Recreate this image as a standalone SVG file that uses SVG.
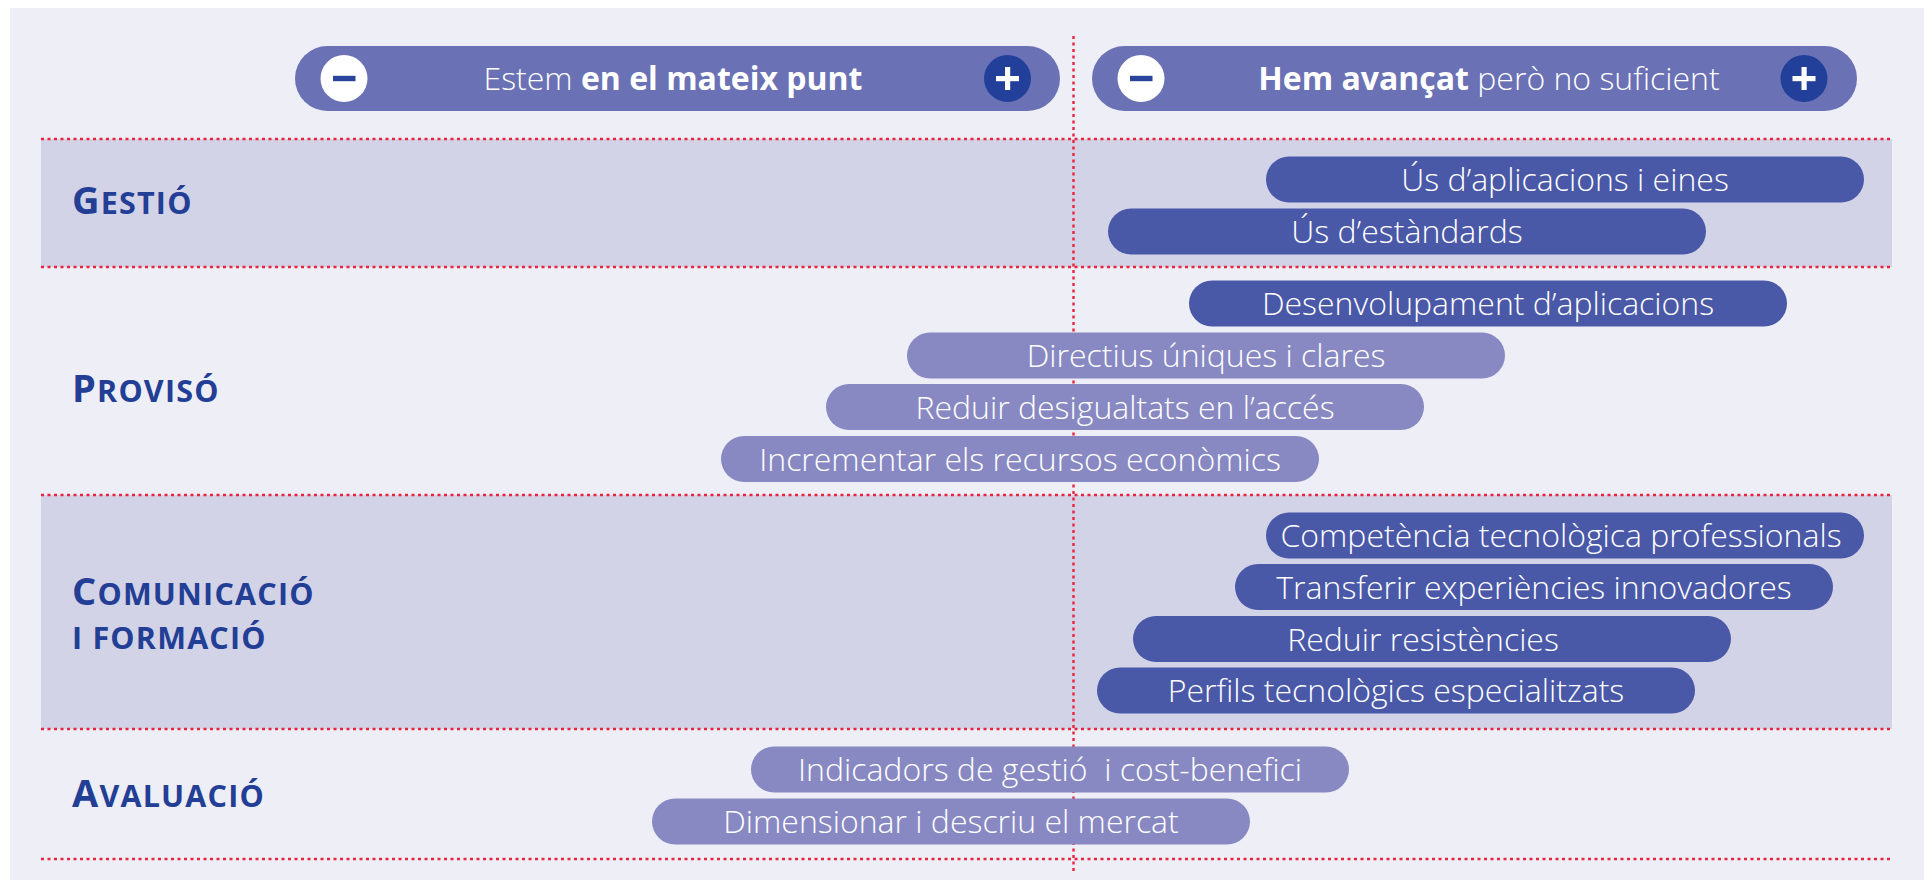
<svg xmlns="http://www.w3.org/2000/svg" width="1924" height="880" viewBox="0 0 1924 880">
<style>
.bg{fill:#EEEEF6}
.band{fill:#D3D3E8}
.hline{stroke:#E8253F;stroke-width:2.6;stroke-dasharray:3 3.5;fill:none}
.vline{stroke:#E8253F;stroke-width:2.4;stroke-dasharray:3 3.5;fill:none}
.head{fill:#6A71B5}
.dark{fill:#4A58A8}
.light{fill:#8889C2}
.bt{font-family:"Open Sans","Liberation Sans",sans-serif;font-weight:300;font-size:32px;fill:#FFFFFF;text-anchor:middle;white-space:pre}
.ht{font-family:"Open Sans","Liberation Sans",sans-serif;font-weight:300;font-size:32px;fill:#FFFFFF;text-anchor:middle}
.hb{font-weight:700}
.cat{font-family:"Open Sans","Liberation Sans",sans-serif;font-weight:700;font-size:38px;fill:#233E95;letter-spacing:1.2px}
.sc{font-size:30.5px}
.minus{fill:#FFFFFF}
.plus{fill:#22409A}
</style>
<rect class="bg" x="10" y="8" width="1914" height="872"/>
<g id="bands">
<rect class="band" x="41" y="139" width="1851" height="128"/>
<rect class="band" x="41" y="495" width="1851" height="234"/>
</g>
<g id="grid">
<line class="hline" x1="41" y1="139" x2="1892" y2="139"/>
<line class="hline" x1="41" y1="267" x2="1892" y2="267"/>
<line class="hline" x1="41" y1="495" x2="1892" y2="495"/>
<line class="hline" x1="41" y1="729" x2="1892" y2="729"/>
<line class="hline" x1="41" y1="859" x2="1892" y2="859"/>
<line class="vline" x1="1073.5" y1="36" x2="1073.5" y2="873"/>
</g>
<g id="header-same">
<rect class="head" x="295" y="46" width="765" height="65" rx="32.5"/>
<circle class="minus" cx="344" cy="78.5" r="23.5"/>
<rect fill="#2B449B" x="333" y="75.8" width="22.5" height="5.4"/>
<circle class="plus" cx="1007.5" cy="78.5" r="23.5"/>
<rect fill="#FFFFFF" x="996" y="76" width="23" height="5.2"/>
<rect fill="#FFFFFF" x="1005" y="67" width="5.2" height="23"/>
<text class="ht" x="673" y="90">Estem <tspan class="hb">en el mateix punt</tspan></text>
</g>
<g id="header-advanced">
<rect class="head" x="1092" y="46" width="765" height="65" rx="32.5"/>
<circle class="minus" cx="1141" cy="78.5" r="23.5"/>
<rect fill="#2B449B" x="1130" y="75.8" width="22.5" height="5.4"/>
<circle class="plus" cx="1804" cy="78.5" r="23.5"/>
<rect fill="#FFFFFF" x="1792.5" y="76" width="23" height="5.2"/>
<rect fill="#FFFFFF" x="1801.5" y="67" width="5.2" height="23"/>
<text class="ht" x="1489" y="90"><tspan class="hb">Hem avançat</tspan> però no suficient</text>
</g>
<g id="cat-gestio"><text class="cat" x="72" y="214">G<tspan class="sc">ESTIÓ</tspan></text></g>
<g id="cat-proviso"><text class="cat" x="72" y="402">P<tspan class="sc">ROVISÓ</tspan></text></g>
<g id="cat-comunicacio"><text class="cat" x="72" y="605">C<tspan class="sc">OMUNICACIÓ</tspan></text><text class="cat" x="72" y="649"><tspan class="sc">I FORMACIÓ</tspan></text></g>
<g id="cat-avaluacio"><text class="cat" x="72" y="807">A<tspan class="sc">VALUACIÓ</tspan></text></g>
<g id="bar-us-aplicacions"><rect class="dark" x="1266" y="156.5" width="598" height="46" rx="23"/><text class="bt" x="1565" y="191">Ús d’aplicacions i eines</text></g>
<g id="bar-us-estandards"><rect class="dark" x="1108" y="208.5" width="598" height="46" rx="23"/><text class="bt" x="1407" y="243">Ús d’estàndards</text></g>
<g id="bar-desenvolupament"><rect class="dark" x="1189" y="280.5" width="598" height="46" rx="23"/><text class="bt" x="1488" y="315">Desenvolupament d’aplicacions</text></g>
<g id="bar-directius"><rect class="light" x="907" y="332.5" width="598" height="46" rx="23"/><text class="bt" x="1206" y="367">Directius úniques i clares</text></g>
<g id="bar-desigualtats"><rect class="light" x="826" y="384" width="598" height="46" rx="23"/><text class="bt" x="1125" y="418.5">Reduir desigualtats en l’accés</text></g>
<g id="bar-recursos"><rect class="light" x="721" y="436" width="598" height="46" rx="23"/><text class="bt" x="1020" y="470.5">Incrementar els recursos econòmics</text></g>
<g id="bar-competencia"><rect class="dark" x="1266" y="512.5" width="598" height="46" rx="23"/><text class="bt" x="1561" y="547">Competència tecnològica professionals</text></g>
<g id="bar-transferir"><rect class="dark" x="1235" y="564" width="598" height="46" rx="23"/><text class="bt" x="1534" y="598.5">Transferir experiències innovadores</text></g>
<g id="bar-resistencies"><rect class="dark" x="1133" y="616" width="598" height="46" rx="23"/><text class="bt" x="1423" y="650.5">Reduir resistències</text></g>
<g id="bar-perfils"><rect class="dark" x="1097" y="667.5" width="598" height="46" rx="23"/><text class="bt" x="1396" y="702">Perfils tecnològics especialitzats</text></g>
<g id="bar-indicadors"><rect class="light" x="751" y="746.5" width="598" height="46" rx="23"/><text class="bt" x="1050" y="781">Indicadors de gestió  i cost-benefici</text></g>
<g id="bar-dimensionar"><rect class="light" x="652" y="798.5" width="598" height="46" rx="23"/><text class="bt" x="951" y="833">Dimensionar i descriu el mercat</text></g>
</svg>
